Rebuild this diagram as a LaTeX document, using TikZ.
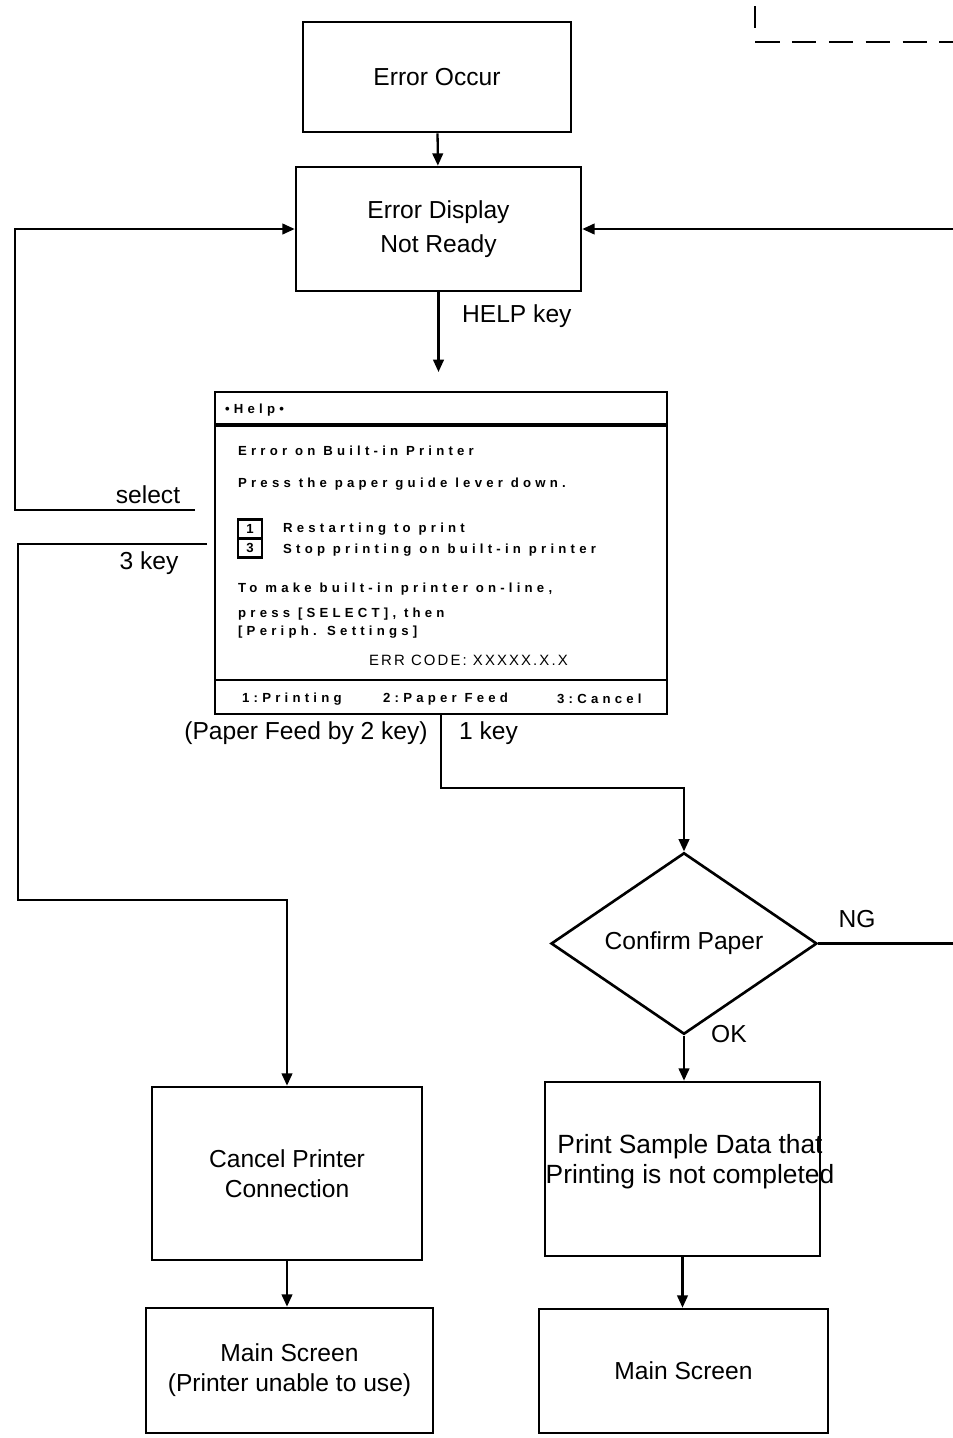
\documentclass[tikz,border=0pt]{standalone}
\usepackage{fontspec}
\setmainfont{Liberation Sans}
\newfontfamily\lcdfont[LetterSpace=32]{Liberation Sans}
\usetikzlibrary{arrows.meta, positioning, shapes.geometric}
\tikzset{
  every picture/.style={font=\fontsize{14}{17}\selectfont, line width=1.3pt},
  box/.style={draw, line width=1.5pt, align=center, inner sep=0pt},
  arrow/.style={-{Triangle[length=7pt, width=6pt]}, line width=1.3pt},
  lcd/.style={anchor=west, inner sep=0pt, font=\lcdfont\bfseries\fontsize{7.5}{9}\selectfont},
  keybox/.style={draw, line width=1.3pt, minimum width=0.48cm, minimum height=0.38cm, inner sep=0pt, font=\bfseries\fontsize{7.5}{8}\selectfont},
  label/.style={inner sep=0pt},
}

\begin{document}
\begin{tikzpicture}[x=0.02cm, y=-0.02cm]
  \useasboundingbox (0,0) rectangle (953,1438);
  % main column
  \node[box, minimum width=5.36cm, minimum height=2.2cm] (occur) at (437,77) {Error Occur};
  \node[box, minimum width=5.7cm, minimum height=2.48cm, font=\fontsize{14}{19}\selectfont] (disp) at (438.5,229) {Error Display\\Not Ready};
  \node[box, minimum width=9.04cm, minimum height=6.44cm] (help) at (441,553) {};
  \draw[line width=2pt] (215,425) -- (667,425);
  \draw[line width=1.5pt] (215,680) -- (667,680);
  % help screen
  \node[lcd] (hhead) at (224,410) {•Help•};
  \node[lcd] (hl1) at (237,451) {Error on Built-in Printer};
  \node[lcd] (hl2) at (237,484) {Press the paper guide lever down.};
  \node[keybox] (k1) at (250,529) {1};
  \node[keybox] (k3) at (250,548) {3};
  \node[lcd] (hl3) at (282,529) {Restarting to print};
  \node[lcd] (hl4) at (282,550) {Stop printing on built-in printer};
  \node[lcd] (hl5) at (237,589) {To make built-in printer on-line,};
  \node[lcd] (hl6) at (237,614) {press [SELECT], then};
  \node[lcd] (hl7) at (237,632) {[Periph. Settings]};
  \node[lcd, font=\lcdfont\fontsize{8.5}{10}\selectfont] (hcode) at (368,660) {\addfontfeature{LetterSpace=14}ERR CODE: XXXXX.X.X};
  \node[lcd] (f1) at (241,699) {1:Printing};
  \node[lcd] (f2) at (382,699) {2:Paper Feed};
  \node[lcd] (f3) at (556,699) {3:Cancel};
  % branches
  \node[box, diamond, minimum width=5.32cm, minimum height=3.34cm] (confirm) at (684,943.5) {Confirm Paper};
  \node[box, minimum width=5.5cm, minimum height=3.48cm] (print) at (682.5,1169) {};
  \node[align=center, font=\fontsize{15}{17}\selectfont] (printtxt) at (690,1162) {Print Sample Data that\\Printing is not completed};
  \node[box, minimum width=5.78cm, minimum height=2.48cm] (mainR) at (683.5,1371) {Main Screen};
  \node[box, minimum width=5.4cm, minimum height=3.46cm] (cancel) at (287,1173.5) {Cancel Printer\\Connection};
  \node[box, minimum width=5.74cm, minimum height=2.5cm] (mainL) at (289.5,1370.5) {Main Screen\\(Printer unable to use)};
  % labels
  \node[label, anchor=west] (lhelp) at (461,316) {HELP key};
  \node[label] (lsel) at (148,495) {select};
  \node[label] (l3) at (149,563) {3 key};
  \node[label] (l2) at (306,733) {(Paper Feed by 2 key)};
  \node[label, anchor=west] (l1) at (458,733) {1 key};
  \node[label] (lng) at (857,919) {NG};
  \node[label] (lok) at (729,1034) {OK};
  % connectors
  \coordinate (helptip) at (438.5,372);
  \coordinate (selstart) at (195,510);
  \coordinate (cstart) at (207,544);
  \coordinate (ngend) at (962,943.5);
  \draw[arrow] (occur) -- (disp);
  \draw[arrow] (disp) -- (helptip);
  \draw[arrow] (selstart) -- (15,510) |- (disp.west);
  \draw[arrow] (cstart) -- (18,544) -- (18,900) -| (cancel.north);
  \draw[arrow] (help.south) -- ++(0,73) -| (confirm.north);
  \draw[arrow] (confirm.east) -- (ngend) |- (disp.east);
  \draw[arrow] (confirm.south) -- (confirm.south |- print.north);
  \draw[arrow] (print.south) -- (print.south |- mainR.north);
  \draw[arrow] (cancel.south) -- (cancel.south |- mainL.north);
  % partial frame at top right
  \draw[dash pattern=on 14pt off 7pt] (755,42) -- (960,42);
  \draw (755,6) -- (755,28);
\end{tikzpicture}
\end{document}
